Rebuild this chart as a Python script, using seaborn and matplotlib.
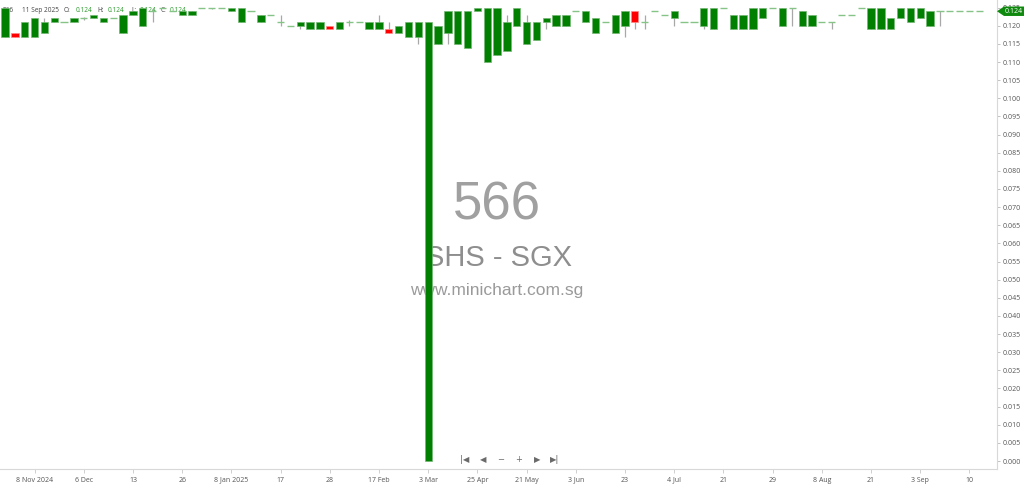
import numpy as np
import matplotlib
matplotlib.use('Agg')
import matplotlib.pyplot as plt
import matplotlib.transforms as mtransforms
from matplotlib.patches import Polygon
import seaborn as sns

# Daily OHLC for 566 (SHS - SGX), prices in thousandths of a dollar.
# Only days with trades are plotted, one slot per day.
open_m = [117, 118, 117, 117, 118, 121, 121, 121, 122, 122,
          121, 122, 118, 123, 120, 124, 125, 124, 123, 123,
          125, 125, 125, 124, 121, 124, 121, 123, 121, 120,
          120, 119, 119, 120, 119, 121, 121, 119, 119, 119,
          118, 117, 117, 0, 115, 118, 115, 114, 124, 110,
          112, 113, 120, 115, 116, 121, 120, 120, 124, 121,
          118, 121, 118, 120, 124, 121, 124, 123, 122, 121,
          121, 120, 119, 125, 119, 119, 119, 122, 125, 120,
          125, 120, 120, 121, 121, 123, 123, 125, 119, 119,
          119, 122, 121, 122, 120, 124, 124, 124, 124, 124]
high_m = [125, 118, 121, 122, 122, 122, 121, 122, 122.5, 123,
          122, 122, 123, 124, 125, 125, 125, 124, 124, 124,
          125, 125, 125, 125, 125, 124, 123, 123, 123, 120,
          121, 121, 121, 120, 121, 121.5, 121, 121, 123, 121,
          120, 121, 121, 121, 120, 124, 124, 124, 125, 125,
          125, 123, 125, 123, 121, 122, 123, 123, 124, 124,
          122, 121, 123, 124, 124, 123, 124, 123, 124, 121,
          121, 125, 125, 125, 123, 123, 125, 125, 125, 125,
          125, 124, 123, 121, 121, 123, 123, 125, 125, 125,
          122, 125, 125, 125, 124, 124, 124, 124, 124, 124]
low_m = [117, 117, 117, 117, 118, 121, 121, 121, 121.5, 122,
         121, 122, 118, 123, 120, 121, 125, 124, 123, 123,
         125, 124.5, 125, 124, 121, 124, 121, 123, 120, 120,
         119, 119, 119, 119, 119, 120, 121, 119, 119, 118,
         118, 117, 115, 0, 115, 115, 115, 114, 124, 110,
         112, 113, 120, 115, 116, 119, 120, 120, 124, 121,
         118, 121, 118, 117, 119, 119, 124, 123, 120, 121,
         121, 119, 119, 125, 119, 119, 119, 122, 125, 120,
         120, 120, 120, 121, 119, 123, 123, 125, 119, 119,
         119, 122, 121, 122, 120, 120, 124, 124, 124, 124]
close_m = [125, 117, 121, 122, 121, 122, 121, 122, 122, 123,
           122, 122, 123, 124, 125, 124, 125, 124, 124, 124,
           125, 125, 125, 125, 125, 124, 123, 123, 121, 120,
           121, 121, 121, 119, 121, 121, 121, 121, 121, 118,
           120, 121, 121, 121, 120, 124, 124, 124, 125, 125,
           125, 121, 125, 121, 121, 122, 123, 123, 124, 124,
           122, 121, 123, 124, 121, 121, 124, 123, 124, 121,
           121, 125, 125, 125, 123, 123, 125, 125, 125, 125,
           125, 124, 123, 121, 121, 123, 123, 125, 125, 125,
           122, 125, 125, 125, 124, 124, 124, 124, 124, 124]

# x-axis labels, one every fifth trading day starting at slot 3
tick_labels = ['8 Nov 2024', '6 Dec', '13', '26', '8 Jan 2025', '17', '28',
               '17 Feb', '3 Mar', '25 Apr', '21 May', '3 Jun', '23', '4 Jul',
               '21', '29', '8 Aug', '21', '3 Sep', '10']
last_date = '11 Sep 2025'
code = '566'
name = 'SHS - SGX'

o = np.array(open_m) / 1000
h = np.array(high_m) / 1000
l = np.array(low_m) / 1000
c = np.array(close_m) / 1000
x = np.arange(len(o))
lo = np.minimum(o, c)
hi = np.maximum(o, c)
up = c > o
down = c < o
flat = c == o

sns.set_theme(style='white')
plt.rcParams['font.family'] = ['Open Sans', 'DejaVu Sans']

fig = plt.figure(figsize=(10.24, 4.84), dpi=100)
ax = fig.add_axes([0, 15 / 484, 997 / 1024, 469 / 484])


def axpos(px, py):
    # pixel position in the picture -> axes fraction
    return px / 997, (469 - py) / 469


# wicks, bodies, flat days
ax.vlines(x, l, h, color='#a8a8a8', lw=0.9, zorder=2)
ax.bar(x[up], (hi - lo)[up], bottom=lo[up], width=0.74, color='#007f00',
       edgecolor='#74b874', linewidth=0.5, zorder=3)
ax.bar(x[down], (hi - lo)[down], bottom=lo[down], width=0.74, color='#ff0000',
       edgecolor='#ff8a8a', linewidth=0.5, zorder=3)
ax.hlines(c[flat], x[flat] - 0.37, x[flat] + 0.37, color='#86c386', lw=1.0, zorder=3)

ax.set_xlim(-0.51, 100.8)
ax.set_ylim(-0.0022, 0.1271)

ax.set_xticks(np.arange(3, 3 + 5 * len(tick_labels), 5))
ax.set_xticklabels(tick_labels)
ax.yaxis.tick_right()
yt = np.arange(0, 0.1251, 0.005)
ax.set_yticks(yt)
ax.set_yticklabels([f'{v:.3f}' for v in yt])
ax.tick_params(axis='y', direction='out', length=2.5, width=0.6, color='#b8b8b8',
               labelsize=5, labelcolor='#555555', pad=1.5, right=True, left=False)
ax.tick_params(axis='x', direction='out', length=3, width=0.6, color='#c8c8c8',
               labelsize=5, labelcolor='#555555', pad=6, bottom=True)
for lab in ax.get_xticklabels():
    lab.set_verticalalignment('baseline')
for s in ['top', 'left']:
    ax.spines[s].set_visible(False)
for s in ['right', 'bottom']:
    ax.spines[s].set_color('#d8d8d8')
    ax.spines[s].set_linewidth(0.8)
ax.grid(False)

# watermark
ax.text(*axpos(497, 205), code, transform=ax.transAxes, ha='center', va='center',
        fontsize=38, color='#a0a0a0', family='Liberation Sans', zorder=1)
ax.text(*axpos(499, 258), name, transform=ax.transAxes, ha='center', va='center',
        fontsize=21, color='#8e8e8e', family='Liberation Sans', zorder=1)
ax.text(*axpos(497, 290), 'www.minichart.com.sg', transform=ax.transAxes,
        ha='center', va='center', fontsize=12.5, color='#9a9a9a',
        family='Liberation Sans', zorder=1)

# header line
hdr_grey = '#444444'
hdr_green = '#2a9a2a'
pieces = [(3, code, hdr_grey), (22, last_date, hdr_grey),
          (64, 'O:', hdr_grey), (76, f'{o[-1]:.3f}', hdr_green),
          (97, 'H:', hdr_grey), (108, f'{h[-1]:.3f}', hdr_green),
          (131, 'L:', hdr_grey), (140, f'{l[-1]:.3f}', hdr_green),
          (161, 'C:', hdr_grey), (170, f'{c[-1]:.3f}', hdr_green)]
for px, txt, col in pieces:
    ax.text(*axpos(px, 10.7), txt, transform=ax.transAxes, ha='left', va='center',
            fontsize=4.7, color=col, zorder=1)

# navigation buttons
for px, sym in [(465, '|◀'), (483, '◀'), (501, '−'), (519, '+'), (537, '▶'), (555, '▶|')]:
    ax.text(*axpos(px, 460), sym, transform=ax.transAxes, ha='center', va='center',
            fontsize=6, color='#6a6a6a', family='DejaVu Sans', zorder=1)

# last price tag on the right axis
trans = mtransforms.blended_transform_factory(ax.transAxes, ax.transData)
dy = 0.0013
yv = c[-1]
tag = Polygon([(1.0, yv), (1.007, yv + dy), (1.04, yv + dy), (1.04, yv - dy), (1.007, yv - dy)],
              closed=True, transform=trans, facecolor='#0f8a0f', edgecolor='none',
              clip_on=False, zorder=10)
ax.add_patch(tag)
ax.text(1.008, yv, f'{yv:.3f}', transform=trans, ha='left', va='center', fontsize=5,
        color='white', clip_on=False, zorder=11)

fig.savefig('out.png', dpi=100)
